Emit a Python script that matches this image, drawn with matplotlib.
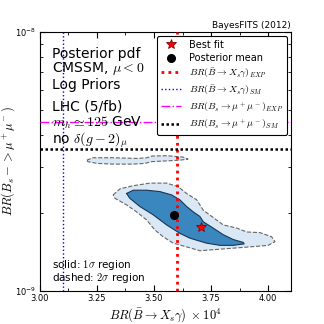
import numpy as np
import matplotlib
matplotlib.use('Agg')
from matplotlib import pyplot as plt
from matplotlib.lines import Line2D
from matplotlib.ticker import MultipleLocator, NullFormatter, FormatStrFormatter

plt.rcParams['mathtext.fontset'] = 'cm'
plt.rcParams['xtick.direction'] = 'in'
plt.rcParams['ytick.direction'] = 'in'

# reference values (x in 1e-4, y in 1e-9)
bsg_exp = 3.60
bsg_sm = 3.10
bsmm_exp = 4.49
bsmm_sm = 3.53

best_fit = (3.706, 1.77)
post_mean = (3.589, 1.96)

# 2 sigma region (main)
sig2_x = [3.321, 3.351, 3.409, 3.482, 3.555, 3.605, 3.643, 3.687, 3.716, 3.774,
          3.803, 3.862, 3.906, 3.964, 4.015, 4.030, 4.000, 3.920, 3.833, 3.745,
          3.701, 3.643, 3.584, 3.540, 3.504, 3.468, 3.424, 3.380, 3.329]
sig2_y = [2.35, 2.48, 2.55, 2.61, 2.61, 2.53, 2.38, 2.25, 2.05, 1.88,
          1.80, 1.75, 1.69, 1.68, 1.62, 1.55, 1.50, 1.48, 1.46, 1.44,
          1.43, 1.48, 1.53, 1.62, 1.72, 1.88, 2.02, 2.15, 2.28]

# 2 sigma island above
isl_x = [3.206, 3.232, 3.320, 3.425, 3.469, 3.491, 3.557, 3.627, 3.649, 3.613,
         3.557, 3.491, 3.460, 3.408, 3.320, 3.250, 3.210]
isl_y = [3.20, 3.27, 3.27, 3.25, 3.27, 3.32, 3.33, 3.29, 3.23, 3.20,
         3.18, 3.16, 3.11, 3.09, 3.09, 3.11, 3.16]

# 1 sigma region
sig1_x = [3.380, 3.409, 3.468, 3.526, 3.577, 3.613, 3.643, 3.672, 3.701, 3.716,
          3.759, 3.803, 3.847, 3.891, 3.895, 3.847, 3.789, 3.730, 3.687, 3.657,
          3.613, 3.555, 3.496, 3.438, 3.394]
sig1_y = [2.38, 2.45, 2.45, 2.42, 2.35, 2.25, 2.12, 2.02, 1.94, 1.85,
          1.75, 1.65, 1.58, 1.54, 1.52, 1.50, 1.50, 1.53, 1.57, 1.60,
          1.67, 1.80, 1.97, 2.12, 2.28]

light = '#dae8f5'
dark = '#3a87c0'

fig, ax = plt.subplots(figsize=(3.24, 3.24), dpi=100)
fig.subplots_adjust(left=0.123, right=0.898, bottom=0.102, top=0.901)

def closed(a):
    return list(a) + [a[0]]

for xs, ys in [(sig2_x, sig2_y), (isl_x, isl_y)]:
    yy = np.array(ys) * 1e-9
    ax.fill(xs, yy, color=light, lw=0, zorder=1)
    ax.plot(closed(xs), closed(yy), color='#666666', ls='--', lw=0.8, zorder=2)

yy = np.array(sig1_y) * 1e-9
ax.fill(sig1_x, yy, color=dark, lw=0, zorder=3)
ax.plot(closed(sig1_x), closed(yy), color='#1b3550', ls='-', lw=0.8, zorder=4)

ax.axvline(bsg_exp, color='red', ls=(0, (1, 1.5)), lw=2.0, zorder=5)
ax.axvline(bsg_sm, color='blue', ls=':', lw=1.0, zorder=5)
ax.axhline(bsmm_exp * 1e-9, color='magenta', ls='-.', lw=1.0, zorder=5)
ax.axhline(bsmm_sm * 1e-9, color='black', ls=(0, (1, 1)), lw=1.8, zorder=5)

ax.plot(post_mean[0], post_mean[1] * 1e-9, 'o', color='black', ms=5.5, zorder=6)
ax.plot(best_fit[0], best_fit[1] * 1e-9, '*', color='red', mec='darkred', mew=0.6, ms=7, zorder=6)

ax.set_yscale('log')
ax.set_xlim(3.0, 4.1)
ax.set_ylim(1e-9, 1e-8)
ax.xaxis.set_major_locator(MultipleLocator(0.25))
ax.xaxis.set_minor_locator(MultipleLocator(0.125))
ax.xaxis.set_major_formatter(FormatStrFormatter('%.2f'))
ax.yaxis.set_minor_formatter(NullFormatter())
ax.tick_params(which='both', top=True, right=True)
ax.tick_params(which='major', length=4, labelsize=6, pad=2.5)
ax.tick_params(which='minor', length=2)

ax.set_xlabel(r'$BR(\bar{B}\rightarrow X_s\gamma)\;\times10^4$', fontsize=9)
ax.set_ylabel(r'$BR(B_s->\mu^+\mu^-)$', fontsize=9)
ax.xaxis.set_label_coords(0.5, -0.058)
ax.yaxis.set_label_coords(-0.09, 0.5)
ax.set_title('BayesFITS (2012)', fontsize=6.5, loc='right', pad=3)

info = ['Posterior pdf', r'CMSSM, $\mu<0$', 'Log Priors', 'LHC (5/fb)',
        r'$m_h\simeq125$ GeV', r'no $\delta(g-2)_\mu$']
info_y = [0.915, 0.858, 0.795, 0.714, 0.649, 0.583]
for s, yp in zip(info, info_y):
    ax.text(0.05, yp, s, transform=ax.transAxes, fontsize=10, va='center', zorder=7)

ax.text(0.05, 0.10, r'solid: $1\sigma$ region', transform=ax.transAxes, fontsize=7.5, va='center')
ax.text(0.05, 0.05, r'dashed: $2\sigma$ region', transform=ax.transAxes, fontsize=7.5, va='center')

handles = [
    Line2D([], [], ls='none', marker='*', color='red', mec='darkred', mew=0.6, ms=7),
    Line2D([], [], ls='none', marker='o', color='black', ms=5.5),
    Line2D([], [], color='red', ls=(0, (1, 1.5)), lw=2.0),
    Line2D([], [], color='blue', ls=':', lw=1.0),
    Line2D([], [], color='magenta', ls='-.', lw=1.0),
    Line2D([], [], color='black', ls=(0, (1, 1)), lw=1.8),
]
labels = ['Best fit', 'Posterior mean',
          r'$BR(\bar{B}\rightarrow X_s\gamma)_{EXP}$',
          r'$BR(\bar{B}\rightarrow X_s\gamma)_{SM}$',
          r'$BR(B_s\rightarrow\mu^+\mu^-)_{EXP}$',
          r'$BR(B_s\rightarrow\mu^+\mu^-)_{SM}$']
leg = ax.legend(handles, labels, loc='upper right', fontsize=7, numpoints=1,
                framealpha=1, edgecolor='black', fancybox=True, borderaxespad=0.4,
                labelspacing=0.35, handlelength=2.0)
leg.get_frame().set_linewidth(0.8)
leg.set_zorder(10)

fig.savefig('out.png', dpi=100)
